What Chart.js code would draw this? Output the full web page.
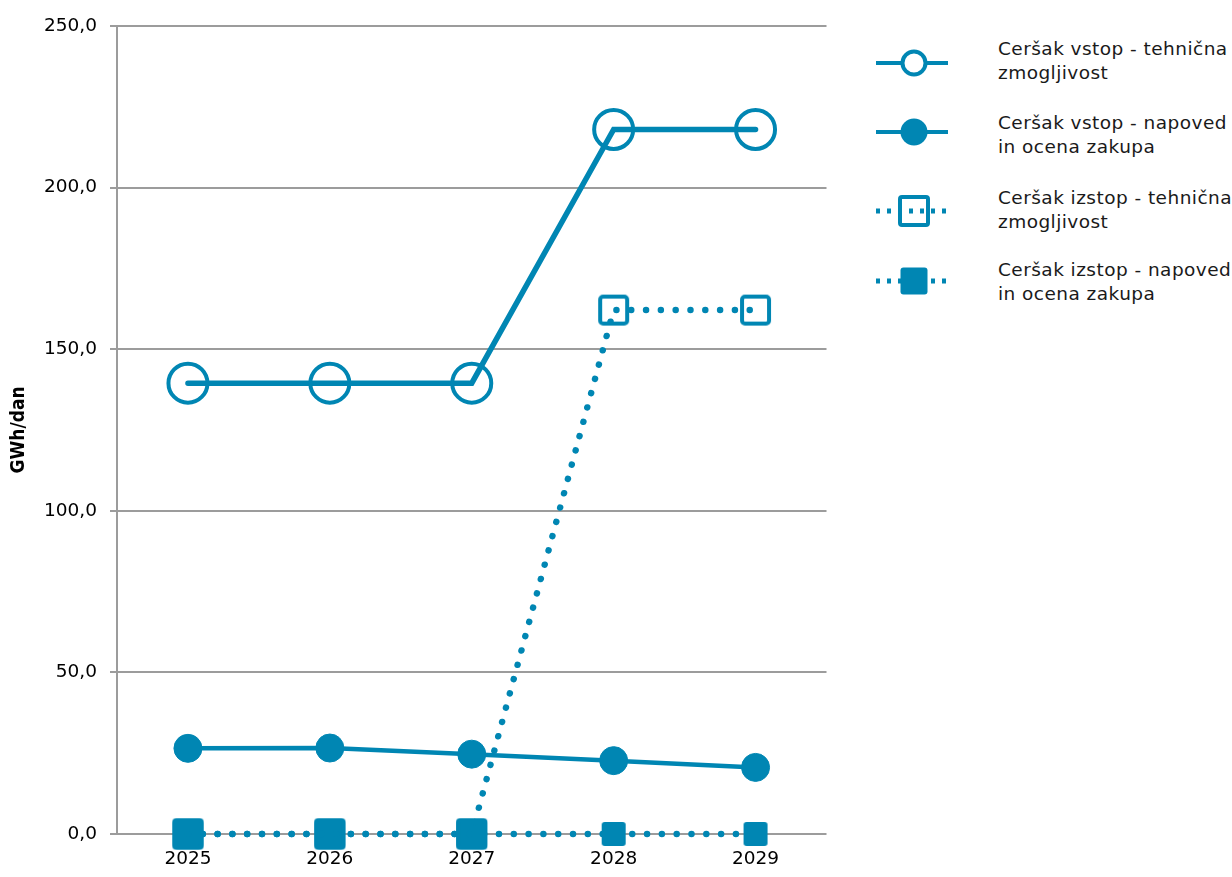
<!DOCTYPE html>
<html>
<head>
<meta charset="utf-8">
<script src="https://cdn.jsdelivr.net/npm/chart.js@4.4.1/dist/chart.umd.min.js"></script>
<style>
  html, body { margin: 0; padding: 0; background: #fff; width: 1232px; height: 877px; overflow: hidden; }
  #wrap { position: absolute; left: 0; top: 0; width: 850px; height: 877px; }
  #legend { position: absolute; left: 870px; top: 0; width: 362px; height: 330px; font-family: "DejaVu Sans", sans-serif; font-size: 18.5px; color: #1a1a1a; letter-spacing: 0.45px; }
  .sym { position: absolute; left: 0; width: 90px; height: 40px; }
  .txt { position: absolute; left: 128px; line-height: 24px; white-space: nowrap; }
</style>
</head>
<body>
<div id="wrap"><canvas id="c"></canvas></div>
<div id="legend">
  <svg class="sym" style="top:43px" viewBox="0 0 90 40"><line x1="6" y1="20" x2="78" y2="20" stroke="#0086b3" stroke-width="4"/><circle cx="44" cy="20" r="11.5" fill="#fff" stroke="#0086b3" stroke-width="4"/></svg>
  <div class="txt" id="t0" style="top:37px"></div>
  <svg class="sym" style="top:112px" viewBox="0 0 90 40"><line x1="6" y1="20" x2="78" y2="20" stroke="#0086b3" stroke-width="4"/><circle cx="44" cy="20" r="13.5" fill="#0086b3"/></svg>
  <div class="txt" id="t1" style="top:111px"></div>
  <svg class="sym" style="top:191px" viewBox="0 0 90 40"><line x1="6" y1="20" x2="78" y2="20" stroke="#0086b3" stroke-width="5" stroke-dasharray="4 7"/><rect x="30" y="6" width="28" height="28" rx="2" fill="none" stroke="#0086b3" stroke-width="4"/></svg>
  <div class="txt" id="t2" style="top:186px"></div>
  <svg class="sym" style="top:261px" viewBox="0 0 90 40"><line x1="6" y1="20" x2="78" y2="20" stroke="#0086b3" stroke-width="5" stroke-dasharray="4 7"/><rect x="30.5" y="6.5" width="27" height="27" rx="3" fill="#0086b3"/></svg>
  <div class="txt" id="t3" style="top:258px"></div>
</div>
<script>
const categories = ["2025", "2026", "2027", "2028", "2029"];
const vstopTehnicna = [139.5, 139.5, 139.5, 218.0, 218.0];
const vstopNapoved = [26.5, 26.6, 24.7, 22.7, 20.6];
const izstopTehnicna = [0, 0, 0, 162.1, 162.1];
const izstopNapoved = [0, 0, 0, 0, 0];
const seriesLabels = [
  ["Ceršak vstop - tehnična", "zmogljivost"],
  ["Ceršak vstop - napoved", "in ocena zakupa"],
  ["Ceršak izstop - tehnična", "zmogljivost"],
  ["Ceršak izstop - napoved", "in ocena zakupa"]
];
const yTicks = [0, 50, 100, 150, 200, 250];
const yTitle = "GWh/dan";

const COLOR = "#0086b3";

seriesLabels.forEach((l, i) => {
  document.getElementById("t" + i).innerHTML = l[0] + "<br>" + l[1];
});

function squareImg(half, filled, stroke) {
  const s = Math.ceil(half * 2) + 2;
  const cv = document.createElement("canvas");
  cv.width = s; cv.height = s;
  const ctx = cv.getContext("2d");
  const r = 3;
  const x0 = s / 2 - half, y0 = s / 2 - half, w = half * 2;
  const inset = filled ? 0 : stroke / 2;
  ctx.beginPath();
  ctx.roundRect(x0 + inset, y0 + inset, w - 2 * inset, w - 2 * inset, r);
  if (filled) { ctx.fillStyle = COLOR; ctx.fill(); }
  else { ctx.lineWidth = stroke; ctx.strokeStyle = COLOR; ctx.stroke(); }
  return cv;
}
const bigFilled = squareImg(15.5, true, 0);
const smallFilled = squareImg(12, true, 0);
const openSq = squareImg(15.5, false, 4);

new Chart(document.getElementById("c"), {
  type: "line",
  data: {
    labels: categories,
    datasets: [
      {
        label: seriesLabels[0].join(" "), data: vstopTehnicna, clip: false,
        borderColor: COLOR, borderWidth: 5.5, tension: 0, borderCapStyle: "round",
        pointStyle: "circle", pointRadius: 19.5, pointBorderWidth: 4,
        pointBorderColor: COLOR, pointBackgroundColor: "rgba(0,0,0,0)"
      },
      {
        label: seriesLabels[1].join(" "), data: vstopNapoved, clip: false,
        borderColor: COLOR, borderWidth: 4.5, tension: 0, borderCapStyle: "round",
        pointStyle: "circle", pointRadius: 14, pointBorderWidth: 1,
        pointBorderColor: COLOR, pointBackgroundColor: COLOR
      },
      {
        label: seriesLabels[2].join(" "), data: izstopTehnicna, clip: false,
        borderColor: COLOR, borderWidth: 6.5, tension: 0,
        borderDash: [0.01, 14.8], borderCapStyle: "round",
        pointStyle: openSq, pointRadius: 16
      },
      {
        label: seriesLabels[3].join(" "), data: izstopNapoved, clip: false,
        borderColor: COLOR, borderWidth: 6.5, tension: 0,
        borderDash: [0.01, 14.8], borderCapStyle: "round",
        pointStyle: [bigFilled, bigFilled, bigFilled, smallFilled, smallFilled], pointRadius: 16
      }
    ]
  },
  options: {
    responsive: true, maintainAspectRatio: false, animation: false,
    events: [],
    layout: { padding: { top: 26, right: 23, left: 0, bottom: 0 } },
    plugins: { legend: { display: false }, tooltip: { enabled: false } },
    scales: {
      x: {
        offset: true,
        grid: { display: false, drawTicks: false },
        border: { display: false },
        ticks: { color: "#000", padding: 14, font: { family: "DejaVu Sans", size: 18.5 } },
        afterFit(scale) { scale.height = 43; }
      },
      y: {
        min: 0, max: 250,
        afterBuildTicks(scale) { scale.ticks = yTicks.map(v => ({ value: v })); },
        grid: { color: "#9c9c9c", lineWidth: 2, tickLength: 7, drawTicks: true },
        border: { display: true, color: "#9c9c9c", width: 2 },
        ticks: {
          color: "#000", padding: 13, font: { family: "DejaVu Sans", size: 18.5 },
          callback: v => v.toFixed(1).replace(".", ",")
        },
        title: {
          display: true, text: yTitle, color: "#000",
          font: { family: "DejaVu Sans Condensed", weight: "bold", size: 19 },
          padding: { top: 8, bottom: 0 }
        },
        afterFit(scale) { scale.width = 117; }
      }
    }
  }
});
</script>
</body>
</html>
